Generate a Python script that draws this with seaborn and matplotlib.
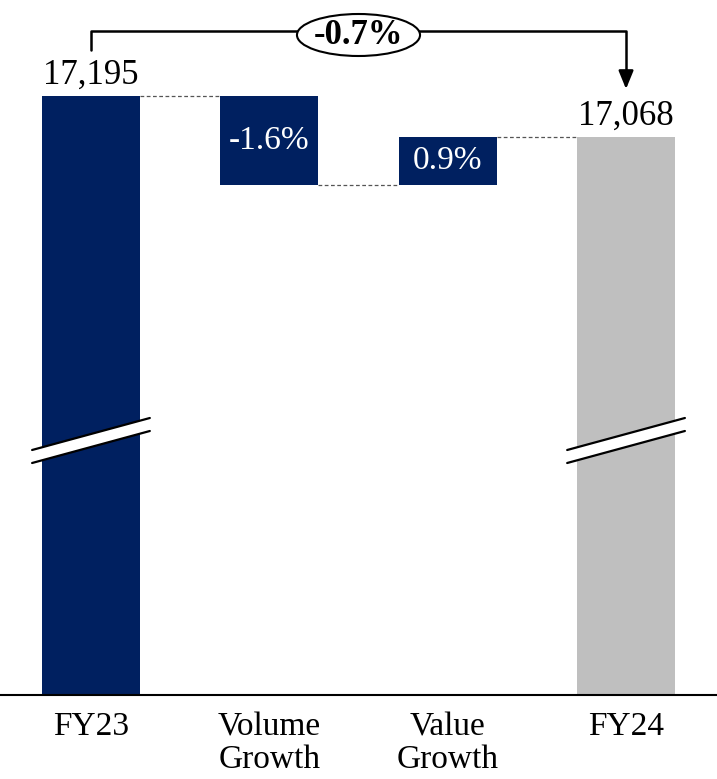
import matplotlib
matplotlib.use('Agg')
import matplotlib.pyplot as plt
import matplotlib.transforms as mtransforms
from matplotlib.patches import Ellipse, Polygon
import seaborn as sns
import pandas as pd

# data
categories = ['FY23', 'Volume\nGrowth', 'Value\nGrowth', 'FY24']
start_value = 17195
end_value = 17068
step_pcts = [-1.6, 0.9]
total_pct = -0.7
axis_floor = 15340   # broken axis starts here
axis_top = 17492

navy = '#002060'
grey = '#BFBFBF'

sns.set_style('white')
plt.rcParams['font.family'] = ['Liberation Serif', 'DejaVu Serif']
plt.rcParams['text.color'] = 'black'
plt.rcParams['xtick.color'] = 'black'

# waterfall levels
vol_change = start_value * step_pcts[0] / 100
after_vol = start_value + vol_change
bottoms = [axis_floor, after_vol, after_vol, axis_floor]
tops = [start_value, start_value, end_value, end_value]
colors = [navy, navy, navy, grey]

df = pd.DataFrame({'cat': categories, 'bottom': bottoms, 'top': tops})
df['height'] = df['top'] - df['bottom']

fig = plt.figure(figsize=(7.17, 7.79), dpi=100)
ax = fig.add_axes([0, 1 - 695 / 779, 1, 695 / 779])

ax.bar(range(4), df['height'], bottom=df['bottom'], width=0.55, color=colors,
       edgecolor='none', linewidth=0)

ax.set_xlim(-0.51, 3.51)
ax.set_ylim(axis_floor, axis_top)
ax.set_xticks(range(4))
ax.set_xticklabels(categories, fontsize=24, linespacing=1.1)
ax.tick_params(axis='x', length=0, pad=12)
ax.set_yticks([])
for s in ['top', 'left', 'right']:
    ax.spines[s].set_visible(False)
ax.spines['bottom'].set_linewidth(1.5)
ax.spines['bottom'].set_color('black')

hw = 0.55 / 2
# dashed connectors
conn = [(0, start_value), (1, after_vol), (2, end_value)]
for i, y in conn:
    ax.plot([i + hw, i + 1 - hw], [y, y], ls=(0, (3, 2)), color='#555555', lw=0.9)

# value labels
ax.annotate(f'{start_value:,}', (0, start_value), xytext=(0, 3), textcoords='offset points',
            ha='center', va='bottom', fontsize=25)
ax.annotate(f'{end_value:,}', (3, end_value), xytext=(0, 3), textcoords='offset points',
            ha='center', va='bottom', fontsize=25)
step_tops = [start_value, end_value]
for k, pct in enumerate(step_pcts):
    ax.text(k + 1, (step_tops[k] + after_vol) / 2, f'{pct:.1f}%', color='white',
            ha='center', va='center', fontsize=24)

# axis break marks
trans = mtransforms.blended_transform_factory(ax.transData, ax.transAxes)
for i in [0, 3]:
    x0, x1 = i - 0.33, i + 0.33
    ylo = [1 - 463 / 695, 1 - 431 / 695]
    yhi = [1 - 450 / 695, 1 - 418 / 695]
    ax.add_patch(Polygon([(x0, ylo[0]), (x1, ylo[1]), (x1, yhi[1]), (x0, yhi[0])],
                         closed=True, facecolor='white', edgecolor='none',
                         transform=trans, zorder=5, clip_on=False))
    ax.plot([x0, x1], yhi, color='black', lw=1.6, transform=trans, zorder=6, clip_on=False)
    ax.plot([x0, x1], ylo, color='black', lw=1.6, transform=trans, zorder=6, clip_on=False)

# bracket with total change
yb = 1 - 31 / 695
ax.plot([0, 0, 3, 3], [1 - 50 / 695, yb, yb, 1 - 74 / 695], color='black', lw=1.8,
        transform=trans, clip_on=False, zorder=6)
ax.annotate('', xy=(3, 1 - 89 / 695), xytext=(3, 1 - 72 / 695),
            xycoords=trans, textcoords=trans,
            arrowprops=dict(arrowstyle='-|>,head_length=1.1,head_width=0.45',
                            color='black', lw=1.8, shrinkA=0, shrinkB=0))
ax.add_patch(Ellipse((1.5, 1 - 35 / 695), 0.69, 42 / 695, facecolor='white',
                     edgecolor='black', lw=1.5, transform=trans, zorder=7, clip_on=False))
ax.text(1.5, 1 - 35 / 695, f'{total_pct:.1f}%', fontsize=25, fontweight='bold',
        ha='center', va='center', transform=trans, zorder=8)

fig.savefig('out.png', dpi=100)
